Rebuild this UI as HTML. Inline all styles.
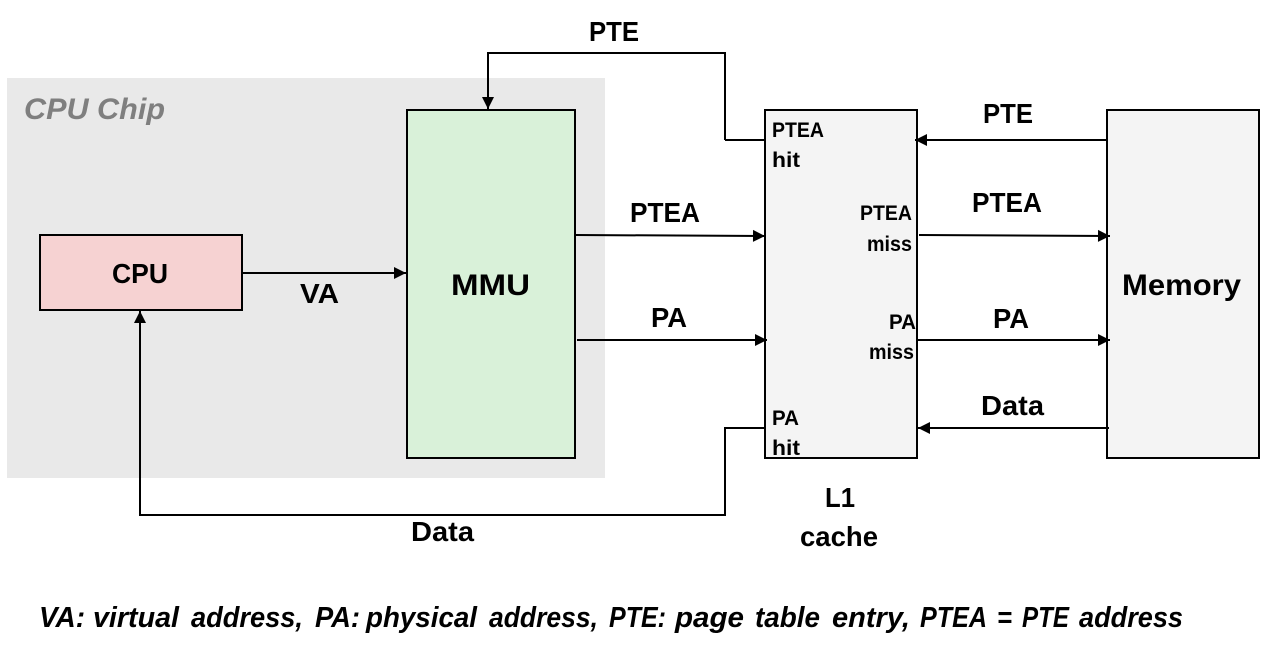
<!DOCTYPE html>
<html><head><meta charset="utf-8"><style>
html,body{margin:0;padding:0;background:#fff;width:1261px;height:657px;overflow:hidden}
svg{display:block}
text{font-family:"Liberation Sans",sans-serif;font-weight:bold;fill:#000}
</style></head><body>
<svg width="1261" height="657" viewBox="0 0 1261 657" xmlns="http://www.w3.org/2000/svg">
<defs><marker id="a" markerUnits="userSpaceOnUse" markerWidth="14" markerHeight="14" refX="13" refY="7" orient="auto"><path d="M1 1 L13 7 L1 13 Z" fill="#000"/></marker></defs>
<rect x="7" y="78" width="598" height="400" fill="#e9e9e9"/>
<text x="24" y="119" font-size="30" font-style="italic" style="fill:#7f7f7f" textLength="141" lengthAdjust="spacingAndGlyphs">CPU Chip</text>
<rect x="40" y="235" width="202" height="75" fill="#f6d2d2" stroke="#000" stroke-width="2"/>
<rect x="407" y="110" width="168" height="348" fill="#d9f1d9" stroke="#000" stroke-width="2"/>
<rect x="765" y="110" width="152" height="348" fill="#f4f4f4" stroke="#000" stroke-width="2"/>
<rect x="1107" y="110" width="152" height="348" fill="#f4f4f4" stroke="#000" stroke-width="2"/>
<g fill="none" stroke="#000" stroke-width="2">
<path d="M243 273H406" marker-end="url(#a)"/>
<path d="M725 140V53H488V109" marker-end="url(#a)"/>
<path d="M765 140H725"/>
<path d="M576 235L765 236" marker-end="url(#a)"/>
<path d="M577 340H767" marker-end="url(#a)"/>
<path d="M765 428H725V515H140V311" marker-end="url(#a)"/>
<path d="M1107 140H915" marker-end="url(#a)"/>
<path d="M919 235L1110 236" marker-end="url(#a)"/>
<path d="M917 340H1110" marker-end="url(#a)"/>
<path d="M1109 428H918" marker-end="url(#a)"/>
</g>
<g font-size="28">
<text x="112" y="283" textLength="56" lengthAdjust="spacingAndGlyphs">CPU</text>
<text x="451" y="295" font-size="30" textLength="79" lengthAdjust="spacingAndGlyphs">MMU</text>
<text x="1122" y="295" font-size="30" textLength="119" lengthAdjust="spacingAndGlyphs">Memory</text>
<text x="300" y="303" textLength="39" lengthAdjust="spacingAndGlyphs">VA</text>
<text x="589" y="41" textLength="50" lengthAdjust="spacingAndGlyphs">PTE</text>
<text x="983" y="123" textLength="50" lengthAdjust="spacingAndGlyphs">PTE</text>
<text x="630" y="222" textLength="70" lengthAdjust="spacingAndGlyphs">PTEA</text>
<text x="972" y="212" textLength="70" lengthAdjust="spacingAndGlyphs">PTEA</text>
<text x="651" y="327" textLength="36" lengthAdjust="spacingAndGlyphs">PA</text>
<text x="993" y="328" textLength="36" lengthAdjust="spacingAndGlyphs">PA</text>
<text x="981" y="415" textLength="63" lengthAdjust="spacingAndGlyphs">Data</text>
<text x="411" y="541" textLength="63" lengthAdjust="spacingAndGlyphs">Data</text>
<text x="825" y="507" textLength="30" lengthAdjust="spacingAndGlyphs">L1</text>
<text x="800" y="546" textLength="78" lengthAdjust="spacingAndGlyphs">cache</text>
</g>
<g font-size="21">
<text x="772" y="137" textLength="52" lengthAdjust="spacingAndGlyphs">PTEA</text>
<text x="772" y="167" textLength="28" lengthAdjust="spacingAndGlyphs">hit</text>
<text x="860" y="220" textLength="52" lengthAdjust="spacingAndGlyphs">PTEA</text>
<text x="867" y="251" textLength="45" lengthAdjust="spacingAndGlyphs">miss</text>
<text x="889" y="329" textLength="27" lengthAdjust="spacingAndGlyphs">PA</text>
<text x="869" y="359" textLength="45" lengthAdjust="spacingAndGlyphs">miss</text>
<text x="772" y="425" textLength="27" lengthAdjust="spacingAndGlyphs">PA</text>
<text x="772" y="455" textLength="28" lengthAdjust="spacingAndGlyphs">hit</text>
</g>
<g font-size="29" font-style="italic" lengthAdjust="spacingAndGlyphs">
<text y="627" x="39" textLength="46" lengthAdjust="spacingAndGlyphs">VA:</text>
<text y="627" x="93" textLength="86" lengthAdjust="spacingAndGlyphs">virtual</text>
<text y="627" x="191" textLength="112" lengthAdjust="spacingAndGlyphs">address,</text>
<text y="627" x="315" textLength="45" lengthAdjust="spacingAndGlyphs">PA:</text>
<text y="627" x="366" textLength="111" lengthAdjust="spacingAndGlyphs">physical</text>
<text y="627" x="489" textLength="109" lengthAdjust="spacingAndGlyphs">address,</text>
<text y="627" x="609" textLength="57" lengthAdjust="spacingAndGlyphs">PTE:</text>
<text y="627" x="675" textLength="69" lengthAdjust="spacingAndGlyphs">page</text>
<text y="627" x="755" textLength="65" lengthAdjust="spacingAndGlyphs">table</text>
<text y="627" x="832" textLength="78" lengthAdjust="spacingAndGlyphs">entry,</text>
<text y="627" x="920" textLength="67" lengthAdjust="spacingAndGlyphs">PTEA</text>
<text y="627" x="997" textLength="15" lengthAdjust="spacingAndGlyphs">=</text>
<text y="627" x="1022" textLength="47" lengthAdjust="spacingAndGlyphs">PTE</text>
<text y="627" x="1079" textLength="104" lengthAdjust="spacingAndGlyphs">address</text>
</g>
</svg>
</body></html>
